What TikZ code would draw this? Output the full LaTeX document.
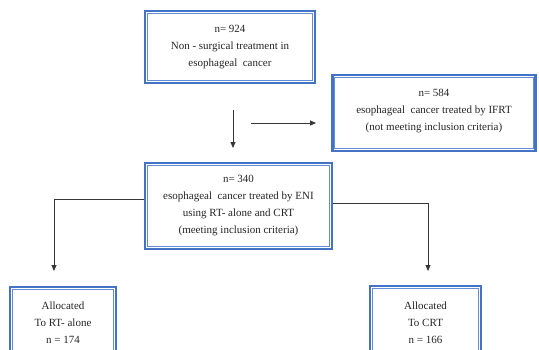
\documentclass[tikz,border=0pt]{standalone}
\usepackage{fontspec}
\setmainfont{Liberation Serif}
\usetikzlibrary{arrows.meta,calc}
\definecolor{boxblue}{RGB}{68,114,196}
\definecolor{innerblue}{RGB}{100,140,210}
\definecolor{linegray}{RGB}{55,55,55}
\tikzset{
  box/.style={draw=boxblue, line width=2.6pt, rectangle, align=center, inner sep=0pt,
    font=\fontsize{11}{17}\selectfont, text=black!85},
  txt/.style={align=center, inner sep=0pt, font=\fontsize{11}{17}\selectfont, text=black!85},
  innerline/.style={draw=innerblue, line width=0.9pt},
  conn/.style={draw=linegray, line width=0.9pt},
  arr/.style={conn, -{Triangle[length=6pt,width=5pt]}}
}
\begin{document}
\begin{tikzpicture}[x=1pt,y=-1pt]
\clip (0,0) rectangle (539,349);
\fill[white] (0,0) rectangle (539,349);
% boxes
\node[box, minimum width=170pt, minimum height=72pt] (b1) at (230,47)
  {n= 924\\Non - surgical treatment in\\esophageal\ \ cancer};
\node[box, minimum width=203pt, minimum height=76pt] (b2) at (434,113) {};
\node[txt] (t2) at (434,111) {n= 584\\esophageal\ \ cancer treated by IFRT\\(not meeting inclusion criteria)};
\node[box, minimum width=187pt, minimum height=86pt] (b3) at (238.5,206)
  {n= 340\\esophageal\ \ cancer treated by ENI\\using RT- alone and CRT\\(meeting inclusion criteria)};
\node[box, minimum width=106pt, minimum height=71pt] (b4) at (63,322.5)
  {Allocated\\To RT- alone\\n = 174};
\node[box, minimum width=111pt, minimum height=73pt] (b5) at (425.5,322.5)
  {Allocated\\To CRT\\n = 166};
\foreach \n in {b1,b2,b3,b4,b5}
  \draw[innerline] ($(\n.north west)+(3.4,3.4)$) rectangle ($(\n.south east)+(-3.4,-3.4)$);
% free arrows
\coordinate (v1) at (233,110);
\coordinate (v2) at (233,148);
\coordinate (h1) at (251,123);
\coordinate (h2) at (316,123);
\draw[arr] (v1) -- (v2);
\draw[arr] (h1) -- (h2);
% branches
\coordinate (lc) at (54,199);
\coordinate (la) at (54,271);
\coordinate (rc) at (428,203);
\coordinate (ra) at (428,271);
\draw[arr] (b3.west |- lc) -- (lc) -- (la);
\draw[arr] (b3.east |- rc) -- (rc) -- (ra);
\end{tikzpicture}
\end{document}
